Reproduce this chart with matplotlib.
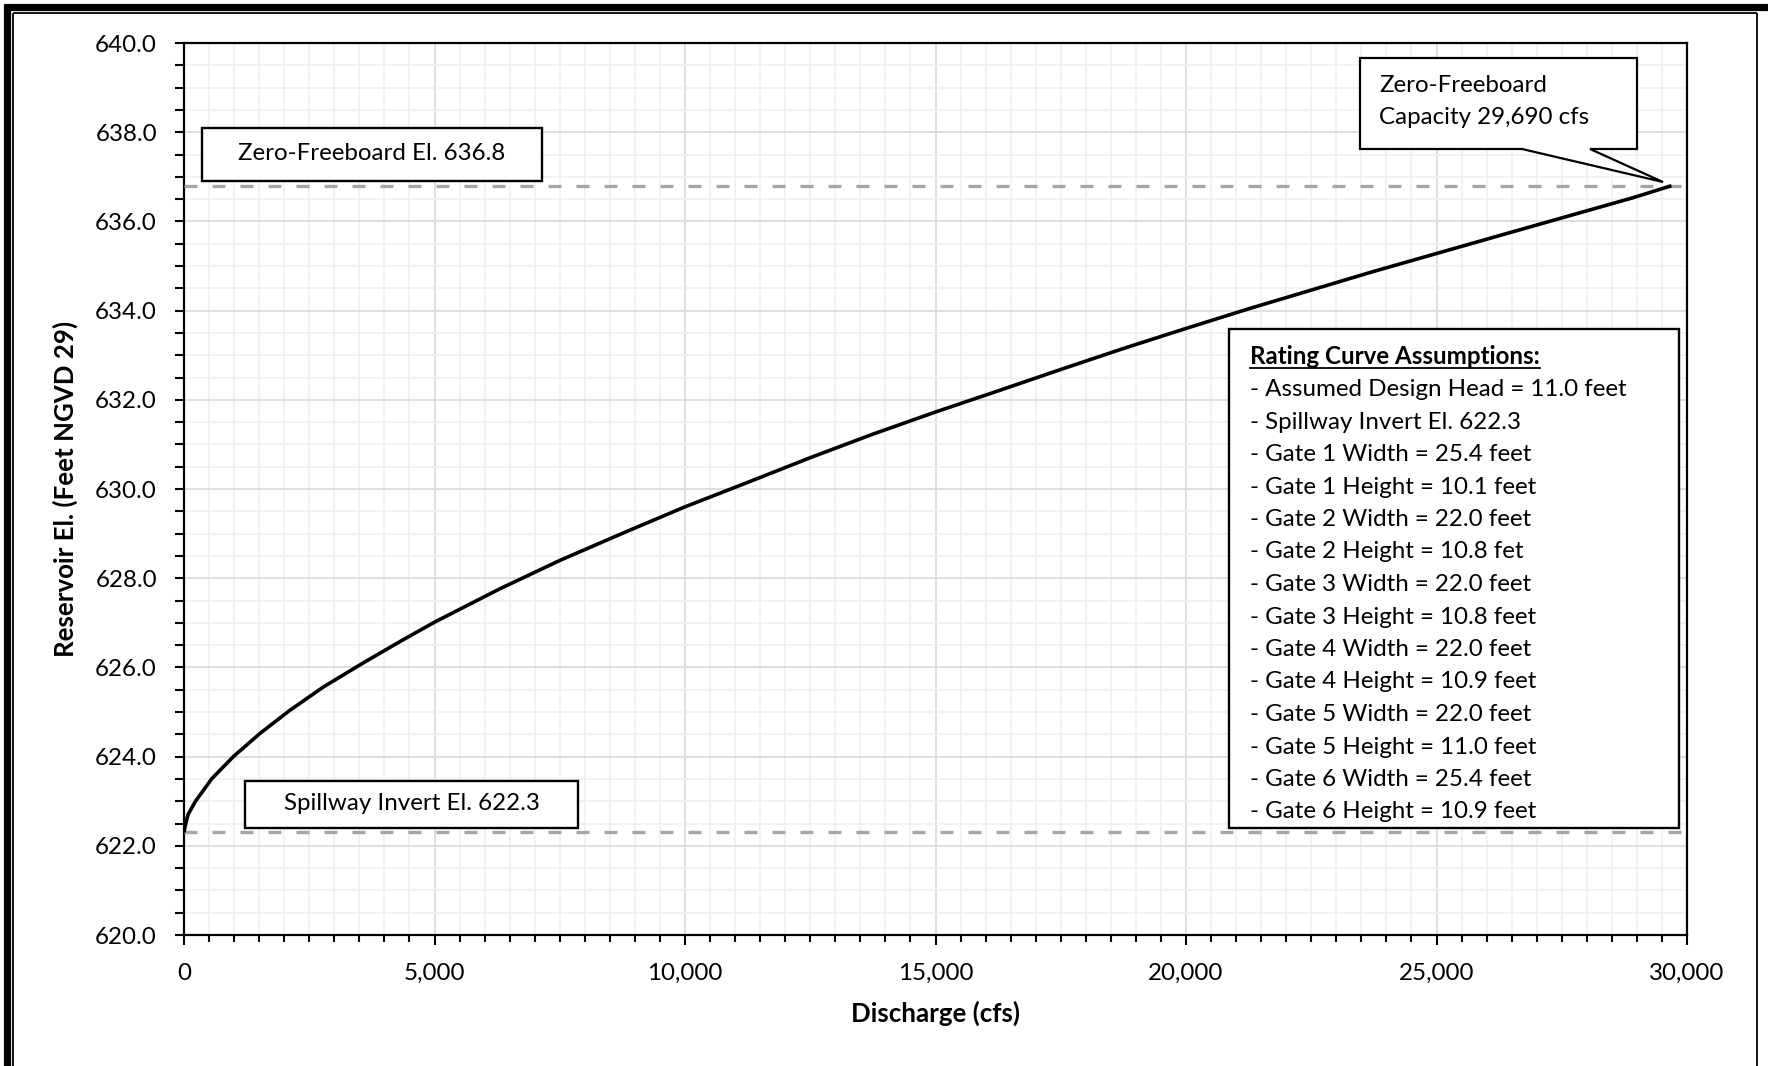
import matplotlib
matplotlib.use("Agg")
import matplotlib.pyplot as plt
from matplotlib.patches import Rectangle, Polygon
from matplotlib.lines import Line2D
from matplotlib.ticker import MultipleLocator, FuncFormatter

# rating curve
discharge = [0, 20, 80, 230, 552, 985, 1517, 2116, 2781, 3546, 4311, 5010,
             6300, 7505, 8800, 10000, 11300, 12495, 13750, 15010, 16250,
             17500, 18750, 20000, 21250, 22500, 23750, 25000, 26250, 27600,
             28920, 29690]
elevation = [622.3, 622.43, 622.7, 623.0, 623.5, 624.0, 624.52, 625.04,
             625.56, 626.08, 626.58, 627.02, 627.76, 628.4, 629.03, 629.6,
             630.17, 630.7, 631.23, 631.73, 632.2, 632.68, 633.15, 633.6,
             634.04, 634.46, 634.88, 635.28, 635.68, 636.11, 636.53, 636.8]

freeboard_el = 636.8
invert_el = 622.3

notes_title = "Rating Curve Assumptions:"
notes = [
    "- Assumed Design Head = 11.0 feet",
    "- Spillway Invert El. 622.3",
    "- Gate 1 Width = 25.4 feet",
    "- Gate 1 Height = 10.1 feet",
    "- Gate 2 Width = 22.0 feet",
    "- Gate 2 Height = 10.8 fet",
    "- Gate 3 Width = 22.0 feet",
    "- Gate 3 Height = 10.8 feet",
    "- Gate 4 Width = 22.0 feet",
    "- Gate 4 Height = 10.9 feet",
    "- Gate 5 Width = 22.0 feet",
    "- Gate 5 Height = 11.0 feet",
    "- Gate 6 Width = 25.4 feet",
    "- Gate 6 Height = 10.9 feet",
]

W, H = 1768, 1066
FS = 17.4
LABEL_FS = 18.6
plt.rcParams["font.family"] = ["Lato", "DejaVu Sans"]


def fx(x):
    return x / W


def fy(y):
    return 1 - y / H


def box(fig, x0, y0, x1, y1, lw=1.7):
    r = Rectangle((fx(x0), fy(y1)), (x1 - x0) / W, (y1 - y0) / H,
                  transform=fig.transFigure, fc="white", ec="black",
                  lw=lw, zorder=5)
    fig.add_artist(r)


def main():
    fig = plt.figure(figsize=(W / 100, H / 100), dpi=100)
    ax = fig.add_axes([fx(184), fy(935), (1687 - 184) / W, (935 - 43) / H])

    grey_dash = dict(color="#A6A6A6", lw=2.4, dashes=(3.9, 4.5), zorder=3)
    ax.plot([0, 30000], [freeboard_el, freeboard_el], **grey_dash)
    ax.plot([0, 30000], [invert_el, invert_el], **grey_dash)
    ax.plot(discharge, elevation, color="black", lw=2.6,
            solid_joinstyle="round", solid_capstyle="butt", zorder=4)

    ax.set_xlim(0, 30000)
    ax.set_ylim(620, 640)
    ax.xaxis.set_major_locator(MultipleLocator(5000))
    ax.xaxis.set_minor_locator(MultipleLocator(500))
    ax.yaxis.set_major_locator(MultipleLocator(2))
    ax.yaxis.set_minor_locator(MultipleLocator(0.5))
    ax.xaxis.set_major_formatter(FuncFormatter(lambda v, p: f"{v:,.0f}"))
    ax.yaxis.set_major_formatter(FuncFormatter(lambda v, p: f"{v:.1f}"))

    ax.grid(which="major", color="#D9D9D9", lw=1.2, zorder=0)
    ax.grid(which="minor", color="#F0F0F0", lw=1.2, zorder=0)
    ax.set_axisbelow(True)
    for s in ax.spines.values():
        s.set_linewidth(1.6)
        s.set_color("black")

    ax.tick_params(axis="both", which="both", direction="out", width=1.5,
                   color="black", labelsize=FS)
    ax.tick_params(axis="x", which="major", length=7, pad=13)
    ax.tick_params(axis="x", which="minor", length=5)
    ax.tick_params(axis="y", which="both", length=6.5, pad=13)

    ax.set_xlabel("Discharge (cfs)", fontsize=LABEL_FS, fontweight="bold",
                  labelpad=12)
    ax.set_ylabel("Reservoir El. (Feet NGVD 29)", fontsize=LABEL_FS,
                  fontweight="bold", labelpad=12)

    # label boxes
    box(fig, 202, 128, 542, 181)
    fig.text(fx(372), fy(154), "Zero-Freeboard El. 636.8", ha="center",
             va="center", fontsize=FS, zorder=6)
    box(fig, 245, 781, 578, 828)
    fig.text(fx(412), fy(804), "Spillway Invert El. 622.3", ha="center",
             va="center", fontsize=FS, zorder=6)

    # callout with tail
    pts = [(1360, 58), (1637, 58), (1637, 149), (1590, 149), (1663, 182),
           (1522, 149), (1360, 149)]
    fig.add_artist(Polygon([(fx(x), fy(y)) for x, y in pts], closed=True,
                           transform=fig.transFigure, fc="white", ec="black",
                           lw=1.6, zorder=5))
    fig.text(fx(1379), fy(85), "Zero-Freeboard", ha="left", va="center",
             fontsize=FS, zorder=6)
    fig.text(fx(1379), fy(117), "Capacity 29,690 cfs", ha="left",
             va="center", fontsize=FS, zorder=6)

    # assumptions box
    box(fig, 1229, 329, 1679, 828)
    t = fig.text(fx(1250), fy(357), notes_title, ha="left", va="center",
                 fontsize=FS, fontweight="bold", zorder=6)
    for i, line in enumerate(notes):
        fig.text(fx(1250), fy(357 + 32.5 * (i + 1)), line, ha="left",
                 va="center", fontsize=FS, zorder=6)
    r = fig.canvas.get_renderer()
    bb = t.get_window_extent(r)
    fig.add_artist(Line2D([bb.x0 / W, bb.x1 / W], [fy(368), fy(368)],
                          transform=fig.transFigure, color="black", lw=1.3,
                          zorder=6))

    # double frame round the chart
    frame = [
        ([fx(6.5), fx(6.5)], [0, fy(4)], 5.2),
        ([fx(4), 1], [fy(6.5), fy(6.5)], 5.2),
        ([fx(13), fx(13)], [0, fy(13)], 1.3),
        ([fx(13), fx(1757)], [fy(13), fy(13)], 1.3),
        ([fx(1757), fx(1757)], [0, fy(13)], 1.3),
    ]
    for xs, ys, lw in frame:
        fig.add_artist(Line2D(xs, ys, transform=fig.transFigure,
                              color="black", lw=lw, solid_capstyle="butt"))

    fig.savefig("out.png", dpi=100, facecolor="white")


if __name__ == "__main__":
    main()
